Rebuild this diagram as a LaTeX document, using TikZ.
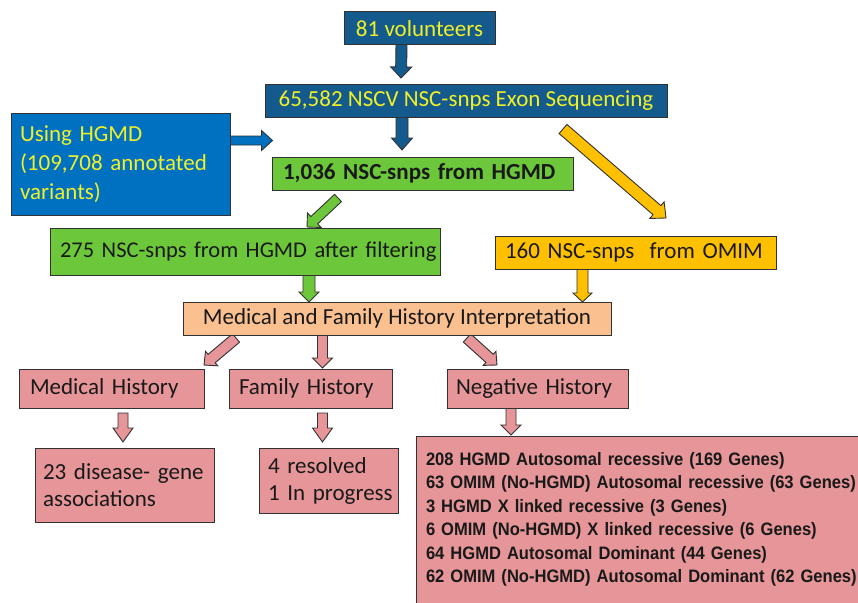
\documentclass[tikz,border=0pt]{standalone}
\usepackage{fontspec}
\setmainfont{Carlito}
\newfontfamily\arialn[FakeStretch=0.92]{Liberation Sans}
\usetikzlibrary{calc}
\definecolor{volblue}{RGB}{20,90,140}
\definecolor{hgblue}{RGB}{0,112,192}
\definecolor{ty}{RGB}{240,240,40}
\definecolor{grn}{RGB}{108,200,58}
\definecolor{org}{RGB}{255,192,0}
\definecolor{peach}{RGB}{250,192,144}
\definecolor{pink}{RGB}{230,150,152}
\definecolor{bd}{RGB}{50,50,50}
\definecolor{tx}{RGB}{25,25,25}
\pgfdeclarelayer{back}
\pgfdeclarelayer{bg}
\pgfsetlayers{back,bg,main}
\tikzset{
  box/.style={draw=bd, line width=1pt, inner ysep=0pt, outer sep=0pt, anchor=north west,
    font=\fontsize{23}{29}\selectfont, text=tx},
  lbox/.style={box, align=left},
  barrowline/.style={draw=bd, line width=0.9pt, line join=miter},
}
% #1 fill, #2 start, #3 end, #4 half shaft, #5 half head, #6 head length
\newcommand\barrow[6]{%
  \coordinate (bA) at #2;
  \coordinate (bB) at #3;
  \coordinate (bC) at ($(bB)!#6pt!(bA)$);
  \filldraw[barrowline, fill=#1]
    ($(bA)!#4pt!90:(bB)$) -- ($(bC)!#4pt!90:(bB)$) -- ($(bC)!#5pt!90:(bB)$) -- (bB)
    -- ($(bC)!#5pt!-90:(bB)$) -- ($(bC)!#4pt!-90:(bB)$) -- ($(bA)!#4pt!-90:(bB)$) -- cycle;}
\begin{document}
\begin{tikzpicture}[x=1pt,y=-1pt]
\useasboundingbox (0,0) rectangle (858,602);
\clip (0,0) rectangle (858,602);
\begin{pgfonlayer}{back}
\fill[white] (0,0) rectangle (858,602);
\end{pgfonlayer}
% boxes
\node[box, fill=volblue, text=ty, minimum width=151pt, minimum height=33pt] (vol) at (344,12) {81 volunteers};
\node[box, fill=volblue, text=ty, minimum width=402pt, minimum height=33pt] (exon) at (265,84) {65,582 NSCV NSC-snps Exon Sequencing};
\node[lbox, fill=hgblue, text=ty, inner xsep=9pt, text width=201pt, minimum height=102pt] (hgmd) at (11,113)
  {\mbox{Using HGMD}\\\mbox{(109,708 annotated}\\\mbox{variants)}};
\node[lbox, fill=grn, inner xsep=11pt, text width=279pt, minimum height=33pt, font=\fontsize{23}{29}\selectfont\bfseries] (d1036) at (272,157)
  {\mbox{1,036 NSC-snps from HGMD}};
\node[lbox, fill=grn, inner xsep=10pt, text width=370pt, minimum height=47pt, font=\fontsize{22.5}{29}\selectfont] (d275) at (50,228)
  {\mbox{275 NSC-snps from HGMD after filtering}};
\node[lbox, fill=org, inner xsep=10pt, text width=261pt, minimum height=33pt] (omim) at (495,236)
  {\mbox{160 NSC-snps\ \ from OMIM}};
\node[box, fill=peach, minimum width=428pt, minimum height=33pt] (med) at (183,302)
  {Medical and Family History Interpretation};
\node[lbox, fill=pink, inner xsep=11pt, text width=163pt, minimum height=39pt] (mh) at (19,369)
  {\mbox{Medical History}};
\node[lbox, fill=pink, inner xsep=10pt, text width=143pt, minimum height=39pt] (fh) at (229,369)
  {\mbox{Family History}};
\node[lbox, fill=pink, inner xsep=9pt, text width=163pt, minimum height=39pt] (nh) at (447,369)
  {\mbox{Negative History}};
\node[lbox, fill=pink, inner xsep=8pt, text width=163pt, minimum height=74pt, font=\fontsize{23}{27}\selectfont] (r23) at (35,448)
  {\mbox{23 disease- gene}\\\mbox{associations}};
\node[lbox, fill=pink, inner xsep=9pt, text width=121pt, minimum height=65pt, font=\fontsize{23}{27}\selectfont] (r4) at (259,448)
  {\mbox{4 resolved}\\\mbox{1 In progress}};
\node[lbox, fill=pink, inner xsep=10pt, inner ysep=16pt, text width=470pt,
  font=\arialn\bfseries\fontsize{18}{23.5}\selectfont] (neg) at (416,436)
  {\mbox{208 HGMD Autosomal recessive (169 Genes)}\\
   \mbox{63 OMIM (No-HGMD) Autosomal recessive (63 Genes)}\\
   \mbox{3 HGMD X linked recessive (3 Genes)}\\
   \mbox{6 OMIM (No-HGMD) X linked recessive (6 Genes)}\\
   \mbox{64 HGMD Autosomal Dominant (44 Genes)}\\
   \mbox{62 OMIM (No-HGMD) Autosomal Dominant (62 Genes)}\\
   \mbox{}};
% block arrows
\begin{pgfonlayer}{bg}
\barrow{volblue}{($(vol.south)+(-18,-1)$)}{($(exon.north)+(-65,-6)$)}{5.5}{10.5}{11}
\barrow{volblue}{($(exon.south)+(-64,-1)$)}{($(d1036.north)+(-20.5,-7)$)}{6}{10.5}{12}
\barrow{hgblue}{($(hgmd.east)+(-1,-23.5)$)}{($(d1036.west)+(0.5,-33)$)}{4.5}{10}{11}
\barrow{org}{($(exon.south)+(97,12)$)}{($(omim.north)+(30.5,-18)$)}{6}{11}{12}
\barrow{grn}{($(d1036.south)+(-84.5,8)$)}{($(d275.north)+(62,-1)$)}{5}{10}{10}
\barrow{grn}{($(d275.south)+(64,-1)$)}{($(med.north)+(-88,0)$)}{6}{10}{10}
\barrow{org}{($(omim.south)+(-53,-1)$)}{($(med.north)+(185.5,0)$)}{5.5}{9.5}{9}
\barrow{pink}{($(med.south)+(-161,3)$)}{($(mh.north)+(92.5,-4)$)}{5.5}{9.5}{10}
\barrow{pink}{($(med.south)+(-74.5,-1)$)}{($(fh.north)+(12,-1)$)}{5}{10}{10}
\barrow{pink}{($(med.south)+(70,3)$)}{($(nh.north)+(-40.5,-4)$)}{5.5}{9.5}{10}
\barrow{pink}{($(mh.south)+(11.5,5)$)}{($(r23.north)+(-1.5,-6)$)}{5}{10}{14}
\barrow{pink}{($(fh.south)+(12,5)$)}{($(r4.north)+(-6,-6)$)}{5}{10}{14}
\barrow{pink}{($(nh.south)+(-26.5,-1)$)}{($(neg.north west)+(95,-1)$)}{5}{10}{10}
\end{pgfonlayer}
\end{tikzpicture}
\end{document}
